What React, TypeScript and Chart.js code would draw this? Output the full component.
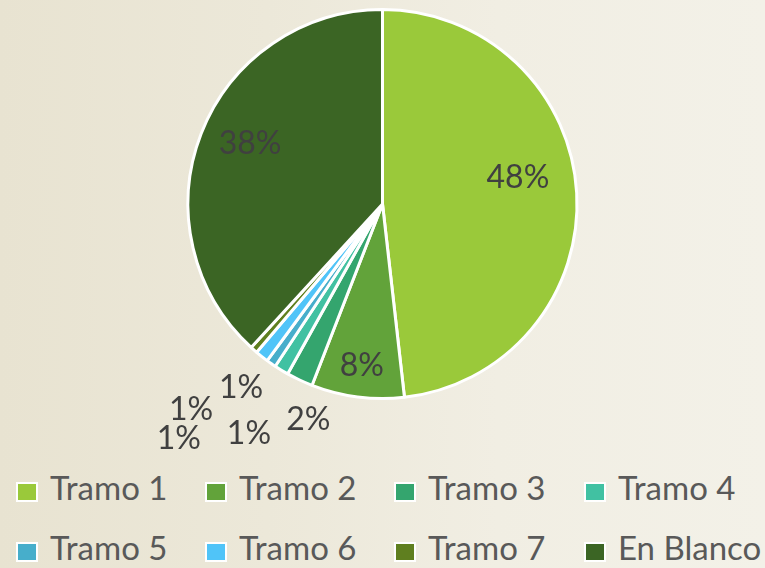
import React, { useEffect, useRef } from "react";
import { Chart, registerables } from "chart.js";

Chart.register(...registerables);

const categories = ["Tramo 1", "Tramo 2", "Tramo 3", "Tramo 4", "Tramo 5", "Tramo 6", "Tramo 7", "En Blanco"];
const shares = [48.2, 7.7, 2.2, 1.2, 0.8, 1.1, 0.6, 38.2];
const sliceColors = ["#9AC93A", "#62A33A", "#34A56E", "#41C1A2", "#47AECB", "#50C4F8", "#5F7F1F", "#3B6524"];

// label placement relative to each slice: radius as fraction of pie radius, angular shift (deg)
const labelRadius = [0.71, 0.83, 1.165, 1.36, 1.186, 1.44, 1.593, 0.75];
const labelShift = [-8.1, 0, -6.1, -1.0, 2.9, 4.8, -0.3, 3.6];

const legendCols = [16, 205, 394, 584];
const legendRows = [482, 542];

const pctPlugin = {
  id: "pctLabels",
  afterDatasetsDraw(chart: any) {
    const ctx = chart.ctx;
    const meta = chart.getDatasetMeta(0);
    const total = shares.reduce((a, b) => a + b, 0);
    ctx.save();
    ctx.font = "32px Lato";
    ctx.fillStyle = "#404040";
    ctx.textAlign = "center";
    ctx.textBaseline = "alphabetic";
    meta.data.forEach((arc: any, i: number) => {
      const { x, y, startAngle, endAngle, outerRadius } = arc.getProps(
        ["x", "y", "startAngle", "endAngle", "outerRadius"],
        true
      );
      const mid = (startAngle + endAngle) / 2 + (labelShift[i] * Math.PI) / 180;
      const r = outerRadius * labelRadius[i];
      const txt = Math.round((shares[i] / total) * 100) + "%";
      ctx.fillText(txt, x + r * Math.cos(mid), y + r * Math.sin(mid) + 11.5);
    });
    ctx.restore();
  },
};

export default function App() {
  const ref = useRef<HTMLCanvasElement | null>(null);

  useEffect(() => {
    document.body.style.margin = "0";
    if (!ref.current) return;
    const chart = new Chart(ref.current, {
      type: "pie",
      data: {
        labels: categories,
        datasets: [
          {
            data: shares,
            backgroundColor: sliceColors,
            borderColor: "#ffffff",
            borderWidth: 3,
          },
        ],
      },
      options: {
        responsive: false,
        animation: false,
        layout: { padding: { top: 8, bottom: 60, left: 0, right: 0 } },
        plugins: {
          legend: { display: false },
          tooltip: { enabled: false },
        },
      },
      plugins: [pctPlugin],
    });
    return () => chart.destroy();
  }, []);

  return (
    <div
      style={{
        position: "relative",
        width: 765,
        height: 568,
        overflow: "hidden",
        background:
          "linear-gradient(90deg, #e8e3d1 0%, #ece8d9 35%, #f1eee3 65%, #f3f1e8 100%)",
        fontFamily: "Lato, sans-serif",
      }}
    >
      <canvas ref={ref} width={765} height={460} style={{ position: "absolute", left: 0, top: 0 }} />
      {categories.map((c, i) => {
        const col = legendCols[i % 4];
        const row = legendRows[Math.floor(i / 4)];
        return (
          <React.Fragment key={c}>
            <div
              style={{
                position: "absolute",
                left: col,
                top: row,
                width: 18,
                height: 16,
                background: sliceColors[i],
                border: "2px solid #ffffff",
              }}
            />
            <div
              style={{
                position: "absolute",
                left: col + 34,
                top: row - 10.6,
                fontSize: 33,
                lineHeight: "33px",
                color: "#595959",
                whiteSpace: "nowrap",
              }}
            >
              {c}
            </div>
          </React.Fragment>
        );
      })}
    </div>
  );
}
